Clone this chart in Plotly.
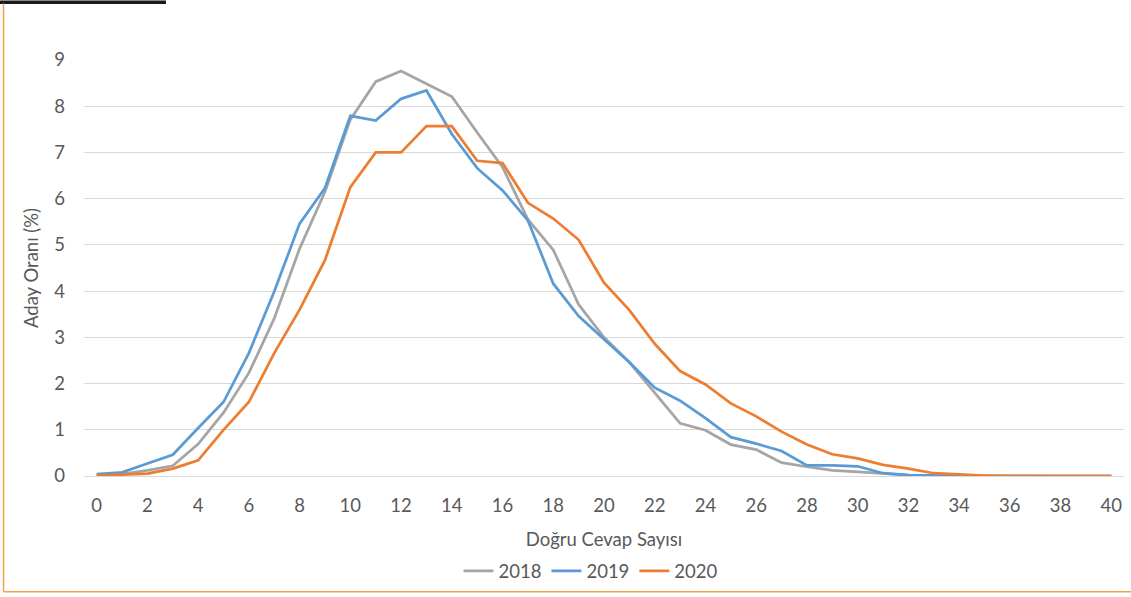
import plotly.graph_objects as go

correct_answers = list(range(41))
tick_labels = [str(v) for v in range(0, 41, 2)]

y2018 = [0.02, 0.04, 0.12, 0.22, 0.69, 1.37, 2.23, 3.41, 4.92, 6.15,
         7.71, 8.53, 8.76, 8.49, 8.21, 7.43, 6.68, 5.55, 4.89, 3.71,
         3.00, 2.46, 1.79, 1.14, 0.99, 0.68, 0.57, 0.29, 0.20, 0.12,
         0.09, 0.05, 0.02, 0.01, 0.01, 0.0, 0.0, 0.0, 0.0, 0.0, 0.0]
y2019 = [0.04, 0.08, 0.27, 0.46, 1.04, 1.60, 2.66, 3.99, 5.46, 6.23,
         7.79, 7.69, 8.16, 8.34, 7.40, 6.66, 6.18, 5.53, 4.16, 3.46,
         2.96, 2.46, 1.91, 1.63, 1.25, 0.84, 0.70, 0.54, 0.23, 0.23,
         0.21, 0.06, 0.02, 0.01, 0.01, 0.0, 0.0, 0.0, 0.0, 0.0, 0.0]
y2020 = [0.01, 0.03, 0.05, 0.16, 0.34, 1.00, 1.60, 2.66, 3.60, 4.67,
         6.25, 7.00, 7.00, 7.57, 7.57, 6.82, 6.77, 5.91, 5.57, 5.11,
         4.18, 3.59, 2.86, 2.27, 1.98, 1.57, 1.29, 0.96, 0.68, 0.47,
         0.38, 0.24, 0.16, 0.06, 0.03, 0.01, 0.0, 0.0, 0.0, 0.0, 0.0]

series = [("2018", y2018, "#A5A5A5"), ("2019", y2019, "#5B9BD5"), ("2020", y2020, "#ED7D31")]

W, H = 1131, 597
ml, mr, mt, mb = 84, 7, 60, 118
pw, ph = W - ml - mr, H - mt - mb

def px_x(p):
    return (p - ml) / pw

def px_y(p):
    return (H - mb - p) / ph

fig = go.Figure()
for name, vals, col in series:
    fig.add_trace(go.Scatter(x=correct_answers, y=vals, mode="lines", name=name,
                             line=dict(color=col, width=2.75)))

FONT = "Lato, Carlito, Liberation Sans, sans-serif"
FS = 18.5
fig.update_layout(
    width=W, height=H,
    margin=dict(l=ml, r=mr, t=mt, b=mb),
    paper_bgcolor="white", plot_bgcolor="white",
    font=dict(family=FONT, size=FS, color="#595959"),
    showlegend=True,
    legend=dict(orientation="h", x=px_x(591), xanchor="center", y=px_y(575), yanchor="middle",
                font=dict(size=FS, color="#595959"), itemwidth=30),
    xaxis=dict(range=[-0.5, 40.5], tickmode="array", tickvals=list(range(0, 41, 2)),
               ticktext=tick_labels, showgrid=False, zeroline=False, showline=True,
               linecolor="#D9D9D9", linewidth=1, ticks="", ticklabelstandoff=13,
               title=dict(text="Doğru Cevap Sayısı", standoff=17, font=dict(size=FS, color="#595959"))),
    yaxis=dict(range=[0, 9], dtick=1, showgrid=True, gridcolor="#D9D9D9", gridwidth=1,
               zeroline=False, showline=False, ticks="", ticklabelstandoff=18,
               title=dict(text="Aday Oranı (%)", standoff=10, font=dict(size=FS, color="#595959"))),
)

shapes = [
    dict(type="rect", xref="paper", yref="paper", x0=px_x(0), x1=px_x(166), y0=px_y(0), y1=px_y(3.5),
         fillcolor="#1A1A1A", line=dict(width=0)),
    dict(type="line", xref="paper", yref="paper", x0=px_x(3.5), x1=px_x(3.5), y0=px_y(3), y1=px_y(595.5),
         line=dict(color="#F4A04A", width=1.5)),
    dict(type="line", xref="paper", yref="paper", x0=px_x(3.5), x1=px_x(1131), y0=px_y(595.5), y1=px_y(595.5),
         line=dict(color="#F4A04A", width=1.5)),
]
fig.update_layout(shapes=shapes)

fig.write_html(
    "out.html", config={"displayModeBar": False},
    post_script=("document.documentElement.style.margin='0';document.documentElement.style.overflow='hidden';"
                 "document.body.style.margin='0';document.body.style.padding='0';document.body.style.overflow='hidden';"
                 "window.scrollTo(0,0);"))
